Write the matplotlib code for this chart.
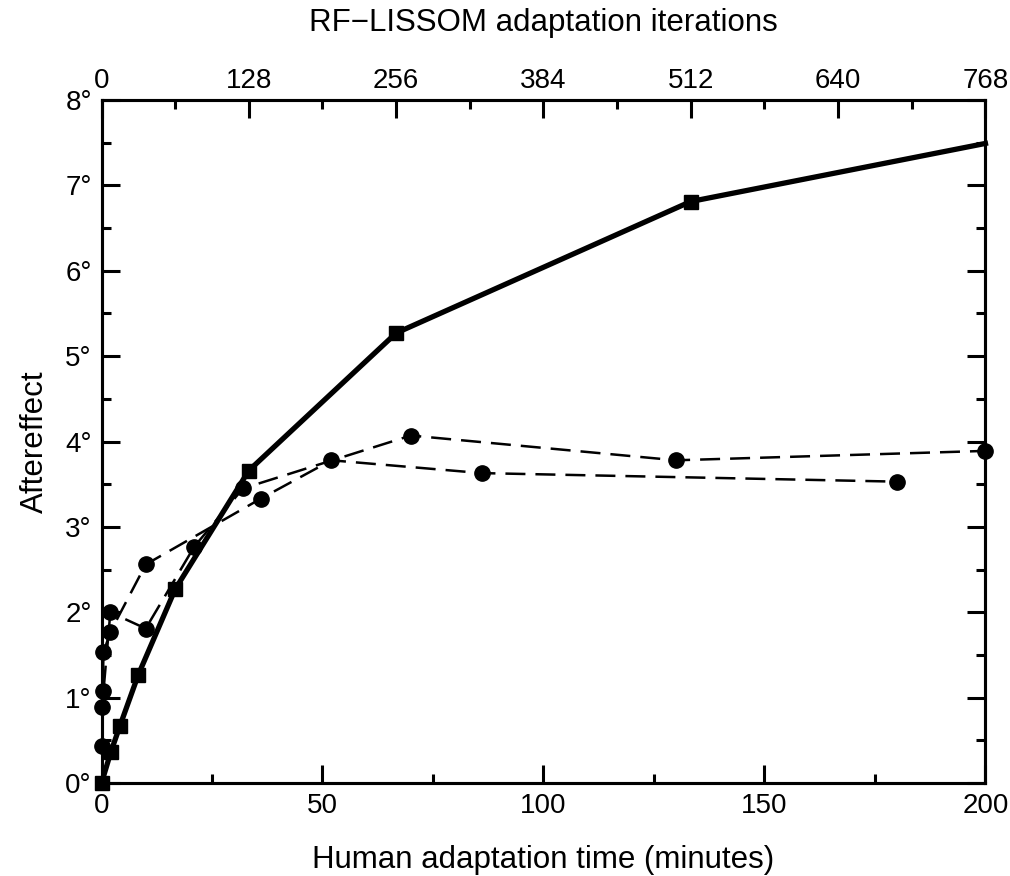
import matplotlib
matplotlib.use("Agg")
import matplotlib.pyplot as plt
from matplotlib.ticker import MultipleLocator, FuncFormatter

plt.rcParams['font.family'] = ['Liberation Sans', 'DejaVu Sans']

# RF-LISSOM model (top axis: iterations)
model_iter = [0, 8, 16, 32, 64, 128, 256, 512, 768]
model_ae = [0.0, 0.36, 0.67, 1.27, 2.27, 3.66, 5.27, 6.81, 7.49]

# Human data (bottom axis: minutes)
human_a_t = [0.15, 0.45, 2.0, 10.0, 21.0, 32.0, 70.0, 130.0, 200.0]
human_a_ae = [0.44, 1.08, 2.0, 1.81, 2.77, 3.45, 4.07, 3.78, 3.89]
human_b_t = [0.15, 0.45, 2.0, 10.0, 36.0, 52.0, 86.0, 180.0]
human_b_ae = [0.89, 1.53, 1.77, 2.56, 3.33, 3.78, 3.63, 3.53]

x_max_min = 200
x_max_iter = 768
y_max = 8

fig = plt.figure(figsize=(10.10, 8.76), dpi=100)
ax = fig.add_axes([0.1005, 0.106, 0.8752, 0.780])

dash = (0, (8, 4))
ax.plot(human_a_t, human_a_ae, color='black', lw=1.8, linestyle=dash,
        marker='o', ms=11, clip_on=False, zorder=3)
ax.plot(human_b_t, human_b_ae, color='black', lw=1.8, linestyle=dash,
        marker='o', ms=11, clip_on=False, zorder=3)

ax.set_xlim(0, x_max_min)
ax.set_ylim(0, y_max)

ax2 = ax.twiny()
ax2.set_xlim(0, x_max_iter)
ax2.set_ylim(0, y_max)
ax2.plot(model_iter, model_ae, color='black', lw=3.8, marker='s', ms=10,
         markevery=list(range(len(model_iter) - 1)), clip_on=False, zorder=4)

for a in (ax, ax2):
    for s in a.spines.values():
        s.set_linewidth(2.2)

ax.xaxis.set_major_locator(MultipleLocator(50))
ax.xaxis.set_minor_locator(MultipleLocator(25))
ax.yaxis.set_major_locator(MultipleLocator(1))
ax.yaxis.set_minor_locator(MultipleLocator(0.5))
ax.yaxis.set_major_formatter(FuncFormatter(lambda v, p: f"{int(round(v))}\u00b0"))
ax2.xaxis.set_major_locator(MultipleLocator(128))
ax2.xaxis.set_minor_locator(MultipleLocator(64))

ax.tick_params(axis='both', which='major', direction='in', length=13, width=2.2,
               labelsize=20, pad=7)
ax.tick_params(axis='both', which='minor', direction='in', length=6.5, width=2.2)
ax.tick_params(axis='y', which='both', right=True, labelright=False)
ax.tick_params(axis='x', which='both', top=False)
ax.tick_params(axis='y', which='major', pad=7)
ax2.tick_params(axis='x', which='major', direction='in', length=13, width=2.2,
                labelsize=20, pad=4)
ax2.tick_params(axis='x', which='minor', direction='in', length=6.5, width=2.2)
ax2.tick_params(axis='y', which='both', left=False, right=False,
                labelleft=False, labelright=False)

ax.set_xlabel("Human adaptation time (minutes)", fontsize=22.5, labelpad=19)
ax.set_ylabel("Aftereffect", fontsize=22.5, labelpad=11)
ax2.set_xlabel("RF\u2212LISSOM adaptation iterations", fontsize=22.5, labelpad=27)

fig.savefig("out.png", dpi=100)
